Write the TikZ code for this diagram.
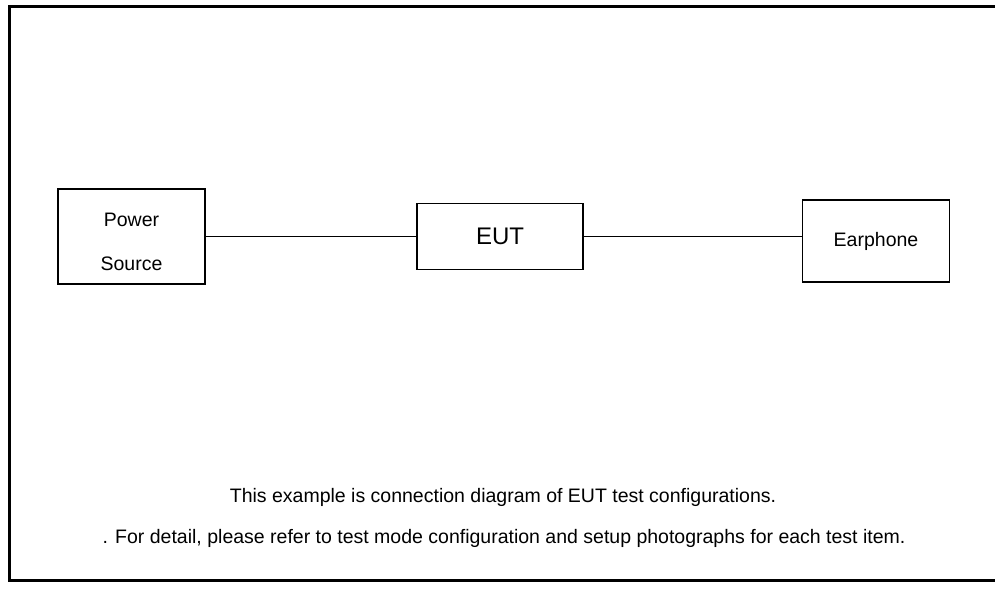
\documentclass[tikz,border=0pt]{standalone}
\usepackage{fontspec}
\setmainfont{Liberation Sans}
\usetikzlibrary{positioning}
\tikzstyle{unit}=[draw,line width=1.4pt,inner sep=0pt,font=\fontsize{19.5}{22}\selectfont]

\begin{document}
\begin{tikzpicture}[x=1pt,y=-1pt]
\useasboundingbox (0,0) rectangle (995,590);
\draw[line width=3pt] (9,6) rectangle (1010,580);

%units of the setup
\path (131.5,236.5) node (PS) [unit,minimum width=147pt,minimum height=95pt,align=center,text height=68pt] {Power\\[22pt]Source}
      (500,236.5) node (EUT) [unit,minimum width=166pt,minimum height=66pt,font=\fontsize{24}{28}\selectfont] {EUT}
      (876,241) node (Ear) [unit,minimum width=147pt,minimum height=82pt] {Earphone};

\draw[line width=1.4pt]
  (PS.east) edge (EUT.west)
  (EUT.east) edge (EUT.east -| Ear.west);

% notes
\path (503,497) node (NoteA) [font=\fontsize{19.5}{22}\selectfont] {This example is connection diagram of EUT test configurations.}
      (504,538) node (NoteB) [font=\fontsize{19.5}{22}\selectfont] {. For detail, please refer to test mode configuration and setup photographs for each test item.};

\end{tikzpicture}
\end{document}
